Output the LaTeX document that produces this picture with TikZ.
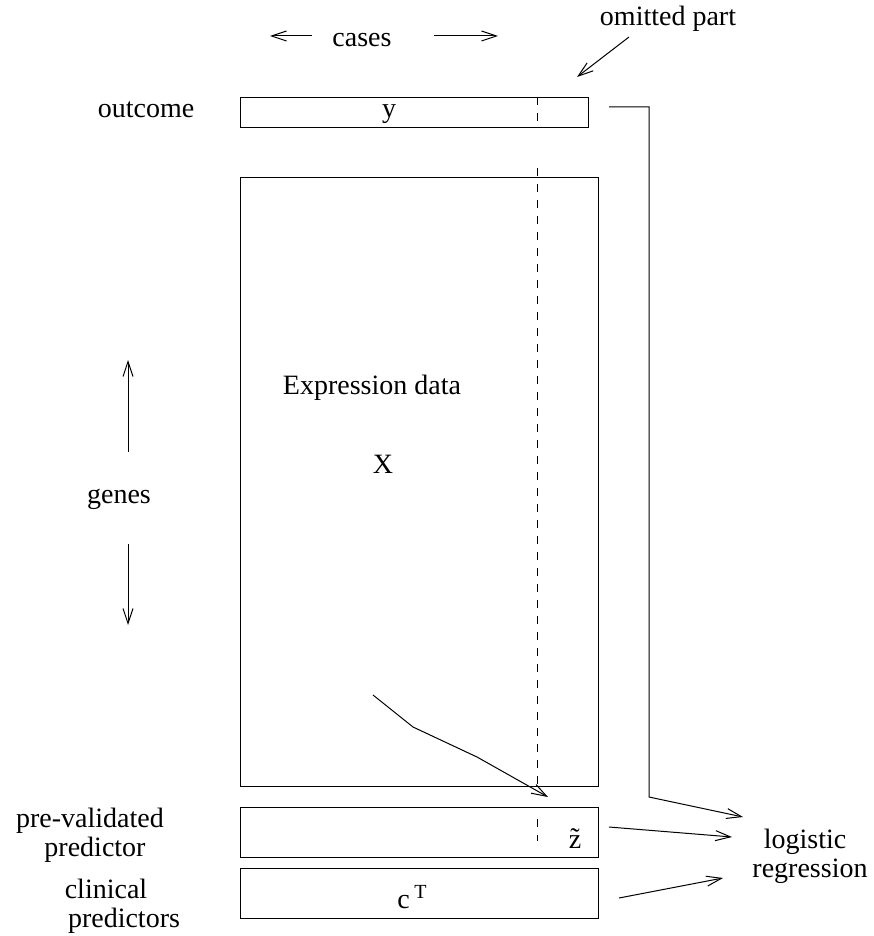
\documentclass[tikz,border=0pt]{standalone}
\usepackage{fontspec}
\setmainfont{Liberation Serif}
\usetikzlibrary{positioning, arrows.meta}
\tikzstyle{databox} = [rectangle, draw=black, line width=0.5pt, inner sep=0pt, outer sep=0pt, minimum width=179pt, minimum height=25pt]
\tikzstyle{txt} = [anchor=base, inner sep=0pt, font=\fontsize{14}{14.5}\selectfont]
\tikzstyle{arrow} = [line width=0.5pt, -{Straight Barb[length=7.5pt,width=5pt]}]
\tikzstyle{cutline} = [line width=0.5pt, dash pattern=on 4pt off 4pt]

\begin{document}
\begin{tikzpicture}[x=0.5pt, y=-0.5pt]
    \useasboundingbox (0,0) rectangle (873,936);

    % Blocchi di dati
    \node (ybox) [databox, minimum width=174pt, minimum height=15pt] at (414,112.5) {};
    \node (xbox) [databox, minimum height=304.25pt, below=25.25pt of ybox.south west, anchor=north west] {};
    \node (zbox) [databox, below=10.5pt of xbox.south west, anchor=north west] {};
    \node (cbox) [databox, minimum height=25.25pt, below=5.25pt of zbox.south west, anchor=north west] {};

    % Parte omessa
    \coordinate (cut) at (537,0);
    \draw [cutline] (cut |- ybox.north) -- (cut |- ybox.south);
    \draw [cutline] (537,168) -- (cut |- xbox.south);
    \draw [cutline] (537,819) -- (537,841);

    % Testi
    \node (ylab) [txt] at (389,118) {y};
    \node (outcome) [txt] at (146,118) {outcome};
    \node (cases) [txt] at (362,47) {cases};
    \node (omit) [txt] at (668,26) {omitted part};
    \node (expr) [txt] at (372,394) {Expression data};
    \node (xlab) [txt] at (383,473) {X};
    \node (genes) [txt] at (119,503) {genes};
    \node (zlab) [txt] at (575,848) {\~{z}};
    \node (clab) [txt] at (412,908) {c\,\raisebox{5pt}{\fontsize{10}{10}\selectfont T}};
    \node (prevA) [txt] at (90,827) {pre-validated};
    \node (prevB) [txt] at (95,856) {predictor};
    \node (clinA) [txt] at (106,898) {clinical};
    \node (clinB) [txt] at (124,927) {predictors};
    \node (logA) [txt] at (805,848) {logistic};
    \node (logB) [txt] at (810,877) {regression};

    % Estremi delle frecce
    \coordinate (casesLt) at (312,36);
    \coordinate (casesLh) at (270,36);
    \coordinate (casesRt) at (434,36);
    \coordinate (casesRh) at (498,36);
    \coordinate (omitT) at (629,37);
    \coordinate (omitH) at (577,77);
    \coordinate (genesUt) at (128,452);
    \coordinate (genesUh) at (128,360);
    \coordinate (genesDt) at (128,544);
    \coordinate (genesDh) at (128,625);
    \coordinate (xT) at (373,695);
    \coordinate (xB1) at (413,727);
    \coordinate (xB2) at (477,757);
    \coordinate (xH) at (548,797);
    \coordinate (yT) at (609,107);
    \coordinate (yC) at (649,797);
    \coordinate (logH1) at (743,817);
    \coordinate (zT) at (609,827);
    \coordinate (logH2) at (732,837);
    \coordinate (cT) at (619,898);
    \coordinate (logH3) at (723,878);

    % Frecce
    \draw [arrow] (casesLt) -- (casesLh);
    \draw [arrow] (casesRt) -- (casesRh);
    \draw [arrow] (omitT) -- (omitH);
    \draw [arrow] (genesUt) -- (genesUh);
    \draw [arrow] (genesDt) -- (genesDh);
    \draw [arrow] (xT) -- (xB1) -- (xB2) -- (xH);
    \draw [arrow] (yT) -| (yC) -- (logH1);
    \draw [arrow] (zT) -- (logH2);
    \draw [arrow] (cT) -- (logH3);

\end{tikzpicture}
\end{document}
